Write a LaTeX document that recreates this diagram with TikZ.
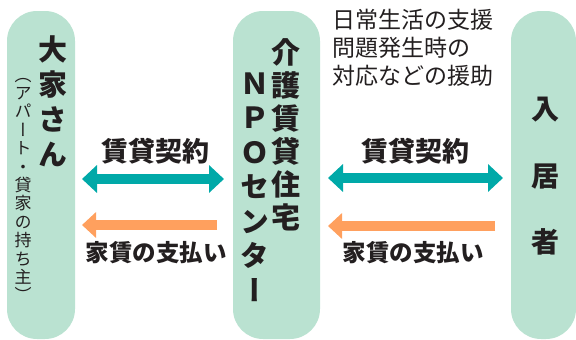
\documentclass[tikz,border=0pt]{standalone}
\usepackage{fontspec}
\usetikzlibrary{arrows.meta}
\newfontfamily\jp[BoldFont={Noto Sans CJK JP Black}]{Noto Sans CJK JP}
\newfontfamily\jpv[RawFeature=+vert, BoldFont={Noto Sans CJK JP Black}, BoldFeatures={RawFeature=+vert}]{Noto Sans CJK JP}
\definecolor{boxgreen}{HTML}{BAE2D1}
\definecolor{tealc}{HTML}{00A9A8}
\definecolor{orangec}{HTML}{FFA05E}
\definecolor{inkc}{HTML}{231F20}
\begin{document}
\begin{tikzpicture}[x=1pt,y=-1pt,
  pillar/.style={fill=boxgreen, draw=none, rounded corners=30pt, inner sep=0pt},
  vtext/.style={inner sep=0pt, align=center, text=inkc},
  bigv/.style={vtext, font={\jpv\bfseries\fontsize{29}{#1}\selectfont}},
  smallv/.style={vtext, font={\jpv\fontsize{17}{18.4}\selectfont}},
  lab/.style={inner sep=0pt, text=inkc, font={\jp\bfseries\fontsize{#1}{#1}\selectfont}},
  tealarr/.style={draw=tealc, line width=9.5pt,
    {Triangle[length=15pt,width=27pt]}-{Triangle[length=15pt,width=27pt]}},
  orangearr/.style={draw=orangec, line width=9.5pt, -{Triangle[length=14pt,width=25pt]}}
]
\useasboundingbox (0,0) rectangle (576,340);
% pillars
\node[pillar, minimum width=68pt, minimum height=328pt] (owner) at (41,175) {};
\node[pillar, minimum width=87pt, minimum height=328pt] (npo) at (276.5,175) {};
\node[pillar, minimum width=65pt, minimum height=328pt] (res) at (543.5,175) {};
% texts in pillars
\node[bigv=35] (ownername) at (53,101.5) {大\\家\\さ\\ん};
\node[smallv] (ownernote) at (23,190) {（\\ア\\パ\\ー\\ト\\・\\貸\\家\\の\\持\\ち\\主\\）};
\node[bigv=33] (npoA) at (286,134.5) {介\\護\\賃\\貸\\住\\宅};
\node[bigv=34.5] (npoB) at (255,187) {Ｎ\\Ｐ\\Ｏ\\セ\\ン\\タ\\ー};
\node[vtext, font={\jpv\bfseries\fontsize{28}{66.5}\selectfont}] (resname) at (545,176.5) {入\\居\\者};
% top note
\node[inner sep=0pt, anchor=west, align=left, text=inkc,
  font={\jp\fontsize{23}{28}\selectfont}] (note) at (332,48)
  {日常生活の支援\\問題発生時の\\対応などの援助};
% arrow end points
\coordinate (l1a) at (82,179);  \coordinate (l1b) at (224,179);
\coordinate (l2a) at (217,225); \coordinate (l2b) at (82,225);
\coordinate (r1a) at (328,178); \coordinate (r1b) at (503,178);
\coordinate (r2a) at (495,226); \coordinate (r2b) at (328,226);
\draw[tealarr] (l1a) -- (l1b);
\draw[orangearr] (l2a) -- (l2b);
\draw[tealarr] (r1a) -- (r1b);
\draw[orangearr] (r2a) -- (r2b);
% labels
\node[lab=27] (lc) at (155,151) {賃貸契約};
\node[lab=23.5] (lp) at (156,253) {家賃の支払い};
\node[lab=27] (rc) at (415,151) {賃貸契約};
\node[lab=23.5] (rp) at (413,253) {家賃の支払い};
\end{tikzpicture}
\end{document}
